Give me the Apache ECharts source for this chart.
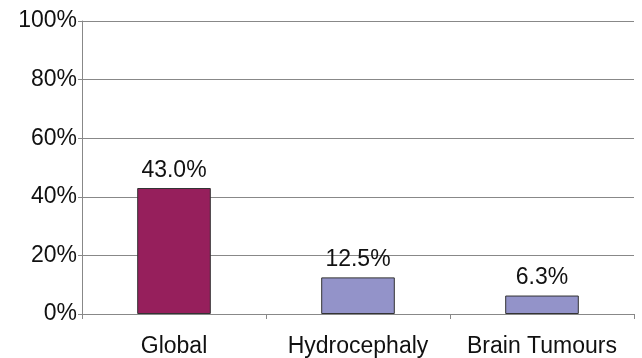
<!DOCTYPE html>
<html>
<head>
<meta charset="utf-8">
<script src="https://cdn.jsdelivr.net/npm/echarts@6/dist/echarts.min.js"></script>
<style>
html,body{margin:0;padding:0;background:#fff;}
#chart{width:642px;height:358px;}
</style>
</head>
<body>
<div id="chart"></div>
<script>
const categories = ['Global', 'Hydrocephaly', 'Brain Tumours'];
const values = [43.0, 12.5, 6.3];
const barColors = ['#961f5c', '#9393c9', '#9393c9'];
const yTicks = [0, 20, 40, 60, 80, 100];

const chart = echarts.init(document.getElementById('chart'), null, {renderer: 'canvas'});
const font = 'Liberation Sans, Arial, sans-serif';
chart.setOption({
  animation: false,
  grid: {left: 82, right: 8, top: 21, bottom: 43, containLabel: false},
  xAxis: {
    type: 'category',
    data: categories,
    boundaryGap: true,
    axisLine: {show: true, lineStyle: {color: '#888', width: 1}},
    axisTick: {show: true, alignWithLabel: false, length: 5, lineStyle: {color: '#888'}},
    axisLabel: {color: '#111', fontFamily: font, fontSize: 23, margin: 21, interval: 0, hideOverlap: false}
  },
  yAxis: {
    type: 'value',
    min: 0, max: 100, interval: 20,
    axisLine: {show: true, lineStyle: {color: '#888', width: 1}},
    axisTick: {show: true, length: 4, lineStyle: {color: '#888'}},
    splitLine: {show: true, lineStyle: {color: '#888', width: 1}},
    axisLabel: {
      color: '#111', fontFamily: font, fontSize: 23, margin: 5,
      formatter: v => yTicks.includes(v) ? v + '%' : ''
    }
  },
  series: [{
    type: 'bar',
    barWidth: '40%',
    data: values.map((v, i) => ({value: v, itemStyle: {color: barColors[i]}})),
    itemStyle: {borderColor: '#333', borderWidth: 1},
    label: {
      show: true, position: 'top', distance: 6,
      color: '#111', fontFamily: font, fontSize: 23,
      formatter: p => p.value.toFixed(1) + '%'
    }
  }]
});
</script>
</body>
</html>
